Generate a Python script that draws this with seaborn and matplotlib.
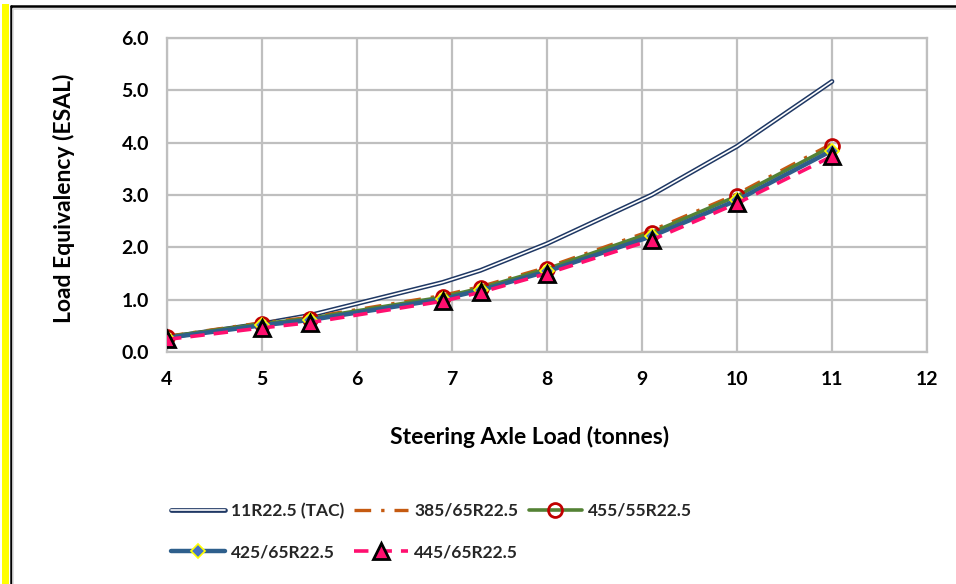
import matplotlib
matplotlib.use("Agg")
import matplotlib.pyplot as plt
import seaborn as sns
import pandas as pd
from matplotlib.lines import Line2D
from matplotlib.patches import Rectangle
from matplotlib.legend_handler import HandlerTuple
from matplotlib.ticker import MultipleLocator, FormatStrFormatter

# ---- data ----
loads = [4, 5, 5.5, 6.9, 7.3, 8, 9.1, 10, 11]
tac_11r225 = [0.28, 0.54, 0.70, 1.33, 1.56, 2.07, 3.00, 3.93, 5.17]
s385_65 = [0.30, 0.56, 0.66, 1.08, 1.25, 1.62, 2.32, 3.02, 3.98]
s455_55 = [0.29, 0.54, 0.64, 1.05, 1.22, 1.59, 2.28, 2.98, 3.93]
s425_65 = [0.27, 0.51, 0.61, 1.01, 1.18, 1.54, 2.21, 2.90, 3.85]
s445_65 = [0.24, 0.46, 0.56, 0.97, 1.14, 1.50, 2.14, 2.84, 3.74]
labels = ["11R22.5 (TAC)", "385/65R22.5", "455/55R22.5", "425/65R22.5", "445/65R22.5"]

df = pd.DataFrame({"load": loads, "tac": tac_11r225, "s385": s385_65,
                   "s455": s455_55, "s425": s425_65, "s445": s445_65})

sns.set_theme(style="white")
plt.rcParams["font.family"] = ["Lato", "DejaVu Sans"]
plt.rcParams["font.weight"] = "bold"

fig = plt.figure(figsize=(9.56, 5.84), dpi=100)
ax = fig.add_axes([167/956, 1-352/584, (927-167)/956, (352-38)/584])

navy = "#1f3864"
orange = "#c55a11"
green = "#548235"
blue = "#2e5f8c"
pink = "#ff0f6f"
grey = "#bfbfbf"

# double line for TAC
sns.lineplot(data=df, x="load", y="tac", ax=ax, color=navy, lw=3.4, zorder=3)
sns.lineplot(data=df, x="load", y="tac", ax=ax, color="white", lw=1.2, zorder=3.1)
sns.lineplot(data=df, x="load", y="s385", ax=ax, color=orange, lw=2.4,
             linestyle=(0, (5, 3, 1, 3)), zorder=4)
sns.lineplot(data=df, x="load", y="s455", ax=ax, color=green, lw=2.6, zorder=5,
             marker="o", ms=10, mfc="none", mec="#c00000", mew=2)
sns.lineplot(data=df, x="load", y="s425", ax=ax, color=blue, lw=3.2, zorder=6,
             marker="D", ms=7, mfc="#4472c4", mec="#ffff00", mew=1.2)
sns.lineplot(data=df, x="load", y="s445", ax=ax, color=pink, lw=2.6, zorder=7,
             linestyle=(0, (4, 2.5)), marker="^", ms=11, mfc=pink, mec="black", mew=2)

ax.set_xlim(4, 12)
ax.set_ylim(0, 6)
ax.xaxis.set_major_locator(MultipleLocator(1))
ax.xaxis.set_minor_locator(MultipleLocator(0.2))
ax.yaxis.set_major_locator(MultipleLocator(1))
ax.yaxis.set_major_formatter(FormatStrFormatter("%.1f"))
ax.grid(True, which="major", color=grey, lw=1.6)
ax.set_axisbelow(True)
for s in ax.spines.values():
    s.set_color(grey)
    s.set_linewidth(1.6)
ax.tick_params(axis="x", which="both", direction="inout", length=7, width=1.5,
               color=grey, pad=10, labelsize=14)
ax.tick_params(axis="y", length=0, pad=13, labelsize=14)
for t in ax.get_xticklabels() + ax.get_yticklabels():
    t.set_fontweight("bold")
    t.set_color("black")

ax.set_xlabel("Steering Axle Load (tonnes)", fontsize=16.5, fontweight="bold", color="black")
ax.set_ylabel("Load Equivalency (ESAL)", fontsize=16.5, fontweight="bold", color="black")
ax.xaxis.set_label_coords((530-167)/760, -(426-352)/314)
ax.yaxis.set_label_coords(-(167-75)/760, (352-198)/314)

# legend handles (order gives row-wise layout)
h_tac = (Line2D([], [], color=navy, lw=3.4), Line2D([], [], color="white", lw=1.2))
h385 = Line2D([], [], color=orange, lw=2.4, linestyle=(0, (5, 3, 1, 3)))
h455 = Line2D([], [], color=green, lw=2.6, marker="o", ms=10, mfc="none", mec="#c00000", mew=2)
h425 = Line2D([], [], color=blue, lw=3.2, marker="D", ms=7, mfc="#4472c4", mec="#ffff00", mew=1.2)
h445 = Line2D([], [], color=pink, lw=2.6, linestyle=(0, (4, 2.5)), marker="^", ms=11,
              mfc=pink, mec="black", mew=2)
handles = [h_tac, h425, h385, h445, h455]
order_labels = [labels[0], labels[3], labels[1], labels[4], labels[2]]
leg = fig.legend(handles, order_labels, ncol=3,
                 loc="upper left", bbox_to_anchor=(162/956, 1-494/584),
                 frameon=False, fontsize=12.5, handlelength=3.1, handletextpad=0.35,
                 columnspacing=0.6, labelspacing=1.45, borderpad=0,
                 handler_map={tuple: HandlerTuple(ndivide=1, pad=0)})
for t in leg.get_texts():
    t.set_fontweight("bold")

# frame decorations
fig.patches.append(Rectangle((2/956, 0), 7/956, 1-4/584, transform=fig.transFigure,
                             facecolor="#ffff00", edgecolor="none", zorder=0))
fig.lines.append(Line2D([10.5/956, 10.5/956], [0, 1-6/584], transform=fig.transFigure,
                        color="black", lw=1.8))
fig.lines.append(Line2D([10.5/956, 1], [1-6/584, 1-6/584], transform=fig.transFigure,
                        color="black", lw=1.8))
fig.lines.append(Line2D([13/956, 13/956], [0, 1-8.5/584], transform=fig.transFigure,
                        color="#d9d9d9", lw=1.2))
fig.lines.append(Line2D([13/956, 1], [1-8.5/584, 1-8.5/584], transform=fig.transFigure,
                        color="#d9d9d9", lw=1.2))

fig.savefig("out.png", dpi=100)
